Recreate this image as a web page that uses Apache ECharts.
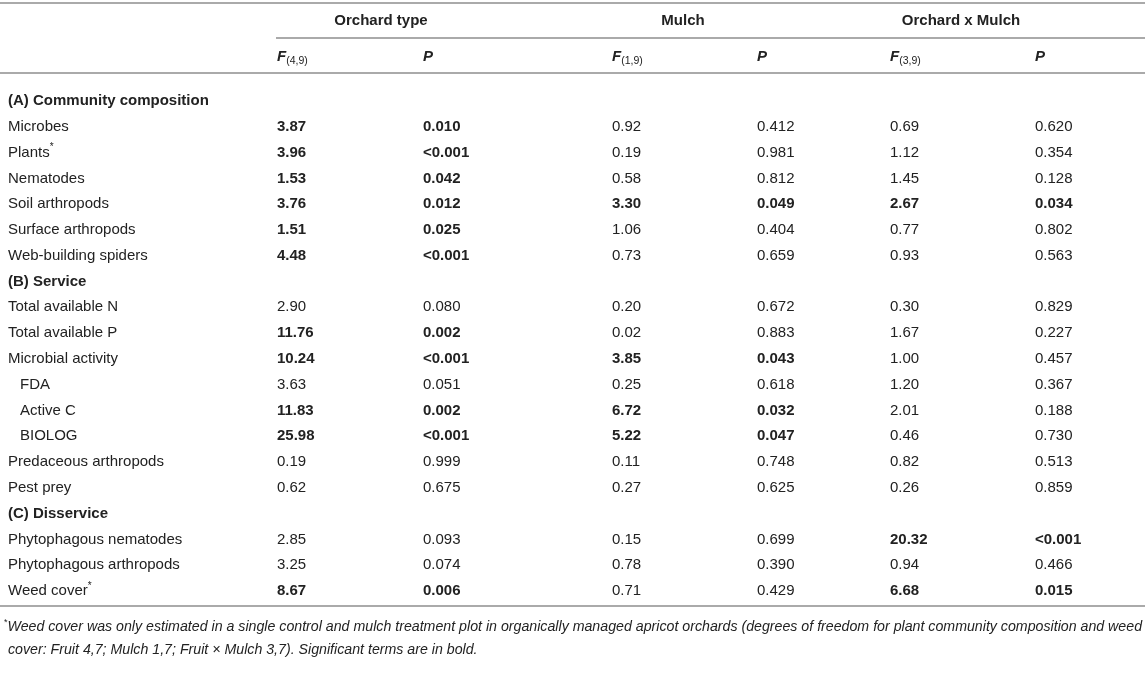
<!DOCTYPE html>
<html>
<head>
<meta charset="utf-8">
<style>
  html, body { margin: 0; padding: 0; background: #fff; }
  #main { width: 1145px; height: 678px; }
</style>
<script src="https://cdn.jsdelivr.net/npm/echarts@6/dist/echarts.min.js"></script>
</head>
<body>
<div id="main"></div>
<script>
// table body rows, section headings have null values
const rowLabels = [
  "(A) Community composition", "Microbes", "Plants*", "Nematodes", "Soil arthropods",
  "Surface arthropods", "Web-building spiders",
  "(B) Service", "Total available N", "Total available P", "Microbial activity",
  "FDA", "Active C", "BIOLOG", "Predaceous arthropods", "Pest prey",
  "(C) Disservice", "Phytophagous nematodes", "Phytophagous arthropods", "Weed cover*"
];
const sectionRows = ["(A) Community composition", "(B) Service", "(C) Disservice"];
const indentRows = ["FDA", "Active C", "BIOLOG"];

const fOrchard = [null, 3.87, 3.96, 1.53, 3.76, 1.51, 4.48, null, 2.90, 11.76, 10.24, 3.63, 11.83, 25.98, 0.19, 0.62, null, 2.85, 3.25, 8.67];
const pOrchard = [null, "0.010", "<0.001", "0.042", "0.012", "0.025", "<0.001", null, "0.080", "0.002", "<0.001", "0.051", "0.002", "<0.001", "0.999", "0.675", null, "0.093", "0.074", "0.006"];
const fMulch = [null, 0.92, 0.19, 0.58, 3.30, 1.06, 0.73, null, 0.20, 0.02, 3.85, 0.25, 6.72, 5.22, 0.11, 0.27, null, 0.15, 0.78, 0.71];
const pMulch = [null, "0.412", "0.981", "0.812", "0.049", "0.404", "0.659", null, "0.672", "0.883", "0.043", "0.618", "0.032", "0.047", "0.748", "0.625", null, "0.699", "0.390", "0.429"];
const fInter = [null, 0.69, 1.12, 1.45, 2.67, 0.77, 0.93, null, 0.30, 1.67, 1.00, 1.20, 2.01, 0.46, 0.82, 0.26, null, 20.32, 0.94, 6.68];
const pInter = [null, "0.620", "0.354", "0.128", "0.034", "0.802", "0.563", null, "0.829", "0.227", "0.457", "0.367", "0.188", "0.730", "0.513", "0.859", null, "<0.001", "0.466", "0.015"];

const groupTitles = ["Orchard type", "Mulch", "Orchard x Mulch"];
const fDegrees = ["(4,9)", "(1,9)", "(3,9)"];
const footLines = [
  "Weed cover was only estimated in a single control and mulch treatment plot in organically managed apricot orchards (degrees of freedom for plant community composition and weed",
  "cover: Fruit 4,7; Mulch 1,7; Fruit \u00d7 Mulch 3,7). Significant terms are in bold."
];

// layout
const W = 1145;
const colX = [8, 277, 423, 612, 757, 890, 1035];
const groupX = [381, 683, 961];
const FONT = "'Liberation Sans', Arial, Helvetica, sans-serif";
const TXT = "#222";
const RULE = "#aaaaaa";
const FOOT_SIZE = 14.2;

const fCols = [fOrchard, fMulch, fInter];
const pCols = [pOrchard, pMulch, pInter];

function isSig(p) {
  return p != null && parseFloat(p.replace("<", "")) < 0.05;
}

// one data item per cell: [column, row]
let cells = [];
for (let r = 0; r < rowLabels.length; r++) {
  cells.push([0, r]);
  if (fOrchard[r] == null) continue;
  for (let c = 1; c < 7; c++) cells.push([c, r]);
}

function cellStyle(c, r) {
  const label = rowLabels[r];
  if (c === 0) {
    const section = sectionRows.indexOf(label) >= 0;
    if (label.endsWith("*")) {
      return {
        text: "{t|" + label.slice(0, -1) + "}{s|*}",
        rich: {
          t: { fontFamily: FONT, fontSize: 15, lineHeight: 20, fill: TXT },
          s: { fontFamily: FONT, fontSize: 10, lineHeight: 10, verticalAlign: "top", fill: TXT }
        },
        fill: TXT
      };
    }
    return {
      text: label,
      fontFamily: FONT,
      fontSize: 15,
      fontWeight: section ? "bold" : "normal",
      fill: TXT
    };
  }
  const g = Math.floor((c - 1) / 2);
  const p = pCols[g][r];
  const bold = isSig(p);
  const text = (c % 2 === 1) ? fCols[g][r].toFixed(2) : p;
  return {
    text: text,
    fontFamily: FONT,
    fontSize: 15,
    fontWeight: bold ? "bold" : "normal",
    fill: TXT
  };
}

function renderCell(params, api) {
  const c = api.value(0);
  const r = api.value(1);
  let x = colX[c];
  if (c === 0 && indentRows.indexOf(rowLabels[r]) >= 0) x += 12;
  const pos = api.coord([x, r]);
  const st = cellStyle(c, r);
  st.align = "left";
  st.verticalAlign = "middle";
  return { type: "text", x: pos[0], y: pos[1], style: st };
}

// header, rules and footnote
let graphics = [
  { type: "line", shape: { x1: 0, y1: 3, x2: W, y2: 3 }, style: { stroke: RULE, lineWidth: 2 } },
  { type: "line", shape: { x1: 276, y1: 38, x2: W, y2: 38 }, style: { stroke: RULE, lineWidth: 2 } },
  { type: "line", shape: { x1: 0, y1: 73, x2: W, y2: 73 }, style: { stroke: RULE, lineWidth: 2 } },
  { type: "line", shape: { x1: 0, y1: 606, x2: W, y2: 606 }, style: { stroke: RULE, lineWidth: 2 } }
];
for (let g = 0; g < 3; g++) {
  graphics.push({
    type: "text", x: groupX[g], y: 21,
    style: { text: groupTitles[g], fontFamily: FONT, fontSize: 15, fontWeight: "bold", fill: TXT, align: "center", verticalAlign: "middle" }
  });
  graphics.push({
    type: "text", x: colX[1 + g * 2], y: 57,
    style: {
      text: "{f|F}{s|" + fDegrees[g] + "}",
      rich: {
        f: { fontFamily: FONT, fontSize: 15, fontWeight: "bold", fontStyle: "italic", lineHeight: 20, fill: TXT },
        s: { fontFamily: FONT, fontSize: 10.5, lineHeight: 10, verticalAlign: "bottom", fill: TXT }
      },
      align: "left", verticalAlign: "middle"
    }
  });
  graphics.push({
    type: "text", x: colX[2 + g * 2], y: 57,
    style: { text: "P", fontFamily: FONT, fontSize: 15, fontWeight: "bold", fontStyle: "italic", fill: TXT, align: "left", verticalAlign: "middle" }
  });
}
graphics.push({
  type: "text", x: 4, y: 627,
  style: {
    text: "{s|*}{t|" + footLines[0] + "}",
    rich: {
      s: { fontFamily: FONT, fontSize: 9, lineHeight: 9, verticalAlign: "top", fill: TXT },
      t: { fontFamily: FONT, fontSize: FOOT_SIZE, fontStyle: "italic", lineHeight: 18, fill: TXT }
    },
    align: "left", verticalAlign: "middle"
  }
});
graphics.push({
  type: "text", x: 8, y: 650,
  style: { text: footLines[1], fontFamily: FONT, fontSize: FOOT_SIZE, fontStyle: "italic", fill: TXT, align: "left", verticalAlign: "middle" }
});

let chart = echarts.init(document.getElementById("main"), null, { renderer: "canvas" });
chart.setOption({
  animation: false,
  backgroundColor: "#fff",
  grid: { left: 0, right: 0, top: 88.1, height: 515.8 },
  xAxis: { type: "value", min: 0, max: W, show: false },
  yAxis: { type: "category", data: rowLabels, inverse: true, show: false },
  series: [{
    type: "custom",
    data: cells,
    renderItem: renderCell,
    silent: true
  }],
  graphic: graphics
});
</script>
</body>
</html>
